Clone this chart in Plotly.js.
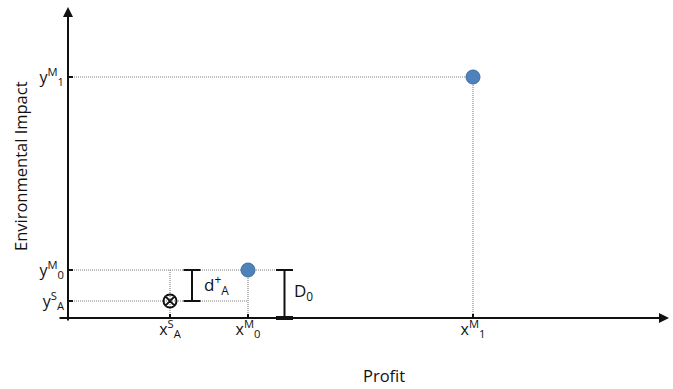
<!DOCTYPE html>
<html>
<head>
<meta charset="utf-8">
<script src="https://cdn.plot.ly/plotly-3.0.1.min.js"></script>
<style>
  html, body { margin: 0; padding: 0; background: #fff; }
  #chart { width: 673px; height: 389px; }
</style>
</head>
<body>
<div id="chart"></div>
<script>
// Model solutions (M0, M1) and the satisficing point (S_A) in profit / impact space
const modelNames = ['M0', 'M1'];
const modelProfit = [1.80, 4.05];
const modelImpact = [0.48, 2.41];

const satProfit = [1.02];
const satImpact = [0.17];

const xTickVals = [1.02, 1.80, 4.05];
const xTickText = ['x<sup>S</sup><sub>A</sub>', 'x<sup>M</sup><sub>0</sub>', 'x<sup>M</sup><sub>1</sub>'];
const yTickVals = [0.17, 0.48, 2.41];
const yTickText = ['y<sup>S</sup><sub>A</sub>', 'y<sup>M</sup><sub>0</sub>', 'y<sup>M</sup><sub>1</sub>'];

const FONT = '"Open Sans", Lato, sans-serif';
const INK = '#111111';
const GUIDE = '#7f7f7f';

// horizontal positions of the two distance brackets
const dBarX = 1.24, DBarX = 2.165, capHalf = 0.085;

const xRange = [-0.12, 6.02];
const yRange = [-0.06, 3.12];

// dotted guide lines from each point back to the axes
const gx = [], gy = [];
function seg(x0, y0, x1, y1) { gx.push(x0, x1, null); gy.push(y0, y1, null); }
const m0x = modelProfit[0], m0y = modelImpact[0];
const m1x = modelProfit[1], m1y = modelImpact[1];
const sx = satProfit[0], sy = satImpact[0];
seg(0, m1y, m1x, m1y);
seg(m1x, m1y, m1x, 0);
seg(0, m0y, DBarX - capHalf, m0y);
seg(m0x, m0y, m0x, 0);
seg(0, sy, m0x, sy);
seg(sx, m0y, sx, 0);

const guides = {
  x: gx, y: gy, mode: 'lines', hoverinfo: 'skip', showlegend: false,
  line: { color: GUIDE, width: 1.1, dash: '1px,1px' }
};

// bracket for d+_A (between S_A and M0) and D_0 (M0 down to the axis)
const bx = [], by = [];
function bracket(x, y0, y1) {
  bx.push(x, x, null, x - capHalf, x + capHalf, null, x - capHalf, x + capHalf, null);
  by.push(y0, y1, null, y0, y0, null, y1, y1, null);
}
bracket(dBarX, sy, m0y);
bracket(DBarX, 0, m0y);
const brackets = {
  x: bx, y: by, mode: 'lines', hoverinfo: 'skip', showlegend: false,
  line: { color: INK, width: 2 }
};
// heavier foot of D_0 where it sits on the profit axis
const foot = {
  x: [DBarX - capHalf, DBarX + capHalf], y: [0, 0], mode: 'lines',
  hoverinfo: 'skip', showlegend: false, line: { color: INK, width: 4 }
};

const models = {
  x: modelProfit, y: modelImpact, text: modelNames, mode: 'markers', showlegend: false,
  marker: { size: 14, color: '#4f81bd', line: { color: '#3d6c9e', width: 1 } }
};

const satisficing = {
  x: satProfit, y: satImpact, mode: 'markers', showlegend: false,
  marker: { size: 13, symbol: 'circle-x-open', color: INK, line: { width: 2, color: INK } }
};

const tickFont = { family: FONT, size: 16, color: INK };

const layout = {
  width: 673, height: 389,
  margin: { l: 56, r: 3, t: 6, b: 65 },
  paper_bgcolor: '#fff', plot_bgcolor: '#fff',
  font: { family: FONT, color: INK, size: 14 },
  xaxis: {
    range: xRange, anchor: 'free',
    position: (0 - yRange[0]) / (yRange[1] - yRange[0]),
    showgrid: false, zeroline: false, showline: false,
    tickvals: xTickVals, ticktext: xTickText,
    ticks: 'inside', ticklen: 4, tickwidth: 1.5, tickcolor: INK,
    tickfont: tickFont
  },
  yaxis: {
    range: yRange, anchor: 'free',
    position: (0 - xRange[0]) / (xRange[1] - xRange[0]),
    showgrid: false, zeroline: false, showline: false,
    tickvals: yTickVals, ticktext: yTickText,
    ticks: 'inside', ticklen: 4, tickwidth: 1.5, tickcolor: INK,
    ticklabelstandoff: 4,
    tickfont: tickFont
  },
  annotations: [
    // axis arrows
    { x: xRange[1] - 0.01, y: 0, ax: -0.1, ay: 0, xref: 'x', yref: 'y', axref: 'x', ayref: 'y',
      text: '', showarrow: true, arrowhead: 2, arrowsize: 1, arrowwidth: 2, arrowcolor: INK },
    { x: 0, y: yRange[1] - 0.01, ax: 0, ay: -0.04, xref: 'x', yref: 'y', axref: 'x', ayref: 'y',
      text: '', showarrow: true, arrowhead: 2, arrowsize: 1, arrowwidth: 2, arrowcolor: INK },
    // bracket labels
    { x: dBarX + 0.1, y: (sy + m0y) / 2 + 0.01, xref: 'x', yref: 'y', xanchor: 'left', yanchor: 'middle',
      text: 'd<sup>+</sup><sub>A</sub>', showarrow: false, font: { family: FONT, size: 17, color: INK } },
    { x: DBarX + 0.07, y: m0y / 2 + 0.03, xref: 'x', yref: 'y', xanchor: 'left', yanchor: 'middle',
      text: 'D<sub>0</sub>', showarrow: false, font: { family: FONT, size: 17, color: INK } },
    // axis titles
    { x: 384, y: 375, text: 'Profit', showarrow: false,
      font: { family: FONT, size: 16.5, color: INK } },
    { x: 20, y: 166, text: 'Environmental Impact', showarrow: false, textangle: -90,
      font: { family: FONT, size: 16.5, color: INK } }
  ]
};

// axis titles are placed in pixels; convert to paper fractions
const pw = layout.width - layout.margin.l - layout.margin.r;
const ph = layout.height - layout.margin.t - layout.margin.b;
[4, 5].forEach(i => {
  const a = layout.annotations[i];
  a.xref = 'paper'; a.yref = 'paper';
  a.x = (a.x - layout.margin.l) / pw;
  a.y = (layout.height - layout.margin.b - a.y) / ph;
  a.xanchor = 'center'; a.yanchor = 'middle';
});

Plotly.newPlot('chart', [guides, brackets, foot, models, satisficing], layout,
  { displayModeBar: false, staticPlot: true });
</script>
</body>
</html>
